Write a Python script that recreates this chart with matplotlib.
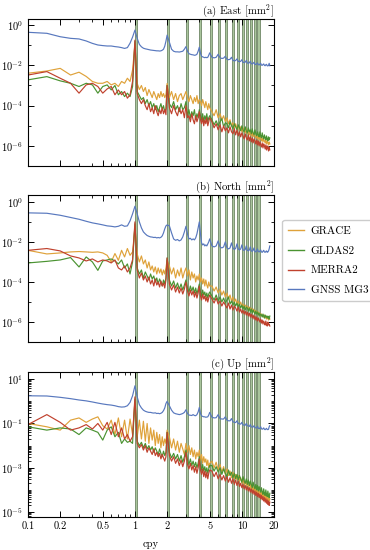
import numpy as np
import matplotlib
matplotlib.use("Agg")
import matplotlib.pyplot as plt
from matplotlib.ticker import FixedLocator, FuncFormatter, NullFormatter, LogLocator

plt.rcParams["font.family"] = "serif"
plt.rcParams["font.serif"] = ["cmr10", "DejaVu Serif"]
plt.rcParams["mathtext.fontset"] = "cm"
plt.rcParams["axes.formatter.use_mathtext"] = True
plt.rcParams["axes.unicode_minus"] = False

# frequency bins (cpy): 0.05 steps to 2, 0.1 steps to 5, 0.25 steps to 18.25
freq = np.concatenate([np.arange(2, 41) * 0.05, np.arange(21, 51) * 0.1, np.arange(21, 74) * 0.25])

# annual harmonics (shaded bands k .. 1.04k)
harmonics = list(range(1, 15))

labels = ["GRACE", "GLDAS2", "MERRA2", "GNSS MG3"]
colors = ["#dfa23a", "#4a9331", "#c0412d", "#5878be"]

# ---- power spectra, log10(mm^2) ----
# (a) East
east_grace = ([-2.39, -2.28, -2.15, -2.48, -2.34, -2.55, -2.8, -2.89, -2.89, -2.8, -2.97, -2.89, -3.05, -2.8, -2.89, -2.64, -2.8, -2.23, -0.99,
               -2.9, -3.2, -3.0, -3.3, -3.1, -3.5, -3.2, -3.4, -3.6, -3.3, -3.5, -3.7, -3.4, -3.6, -3.3, -3.55, -3.4, -3.6, -3.45, -2.9]
              + [-3.6, -3.3, -3.7, -3.4, -3.8, -3.5, -3.4, -3.7, -3.5, -3.3, -3.6, -3.8, -3.5, -3.7, -3.9, -3.6, -3.8, -3.5, -3.9, -3.7,
                 -3.8, -4.0, -3.7, -3.9, -4.1, -3.8, -4.0, -4.2, -3.9, -4.1]
              + [-4.3, -4.5, -4.2, -4.6, -4.4, -4.7, -4.5, -4.8, -4.6, -4.9, -4.7, -5.0, -4.85, -5.1, -4.9, -5.15, -5.0, -5.2, -5.05, -5.3,
                 -5.1, -5.25, -5.35, -5.15, -5.4, -5.2, -5.45, -5.3, -5.5, -5.35, -5.55, -5.4, -5.5, -5.6, -5.45, -5.65, -5.5, -5.7, -5.55, -5.65,
                 -5.75, -5.6, -5.8, -5.65, -5.75, -5.85, -5.7, -5.9, -5.75, -5.85, -5.95, -5.8, -5.9])
east_gldas = ([-2.72, -2.56, -2.77, -2.89, -3.05, -2.89, -2.97, -3.38, -3.05, -2.97, -3.22, -3.0, -3.46, -3.3, -3.55, -3.38, -3.55, -3.05, -0.8,
               -3.3, -3.5, -3.7, -3.6, -3.9, -3.7, -4.0, -3.8, -4.1, -3.9, -4.2, -4.0, -4.3, -4.1, -3.9, -4.2, -4.0, -4.3, -4.15, -3.0]
              + [-3.9, -4.1, -3.8, -4.2, -4.0, -4.3, -3.9, -4.2, -4.1, -3.8, -4.5, -4.2, -4.6, -4.3, -4.5, -4.2, -4.7, -4.4, -4.6, -4.2,
                 -4.5, -4.7, -4.4, -4.8, -4.5, -4.7, -4.4, -4.8, -4.6, -4.5]
              + [-4.7, -4.95, -4.75, -5.0, -4.8, -4.65, -5.05, -4.85, -4.9, -5.1, -4.8, -5.0, -5.15, -4.9, -5.05, -5.2, -4.95, -5.1, -5.25, -5.0,
                 -5.2, -5.3, -5.05, -5.25, -5.35, -5.1, -5.3, -5.2, -5.4, -5.15, -5.35, -5.45, -5.2, -5.4, -5.5, -5.3, -5.45, -5.55, -5.3, -5.5,
                 -5.6, -5.35, -5.55, -5.65, -5.45, -5.6, -5.7, -5.5, -5.65, -5.75, -5.55, -5.7, -5.6])
east_merra = ([-2.48, -2.31, -2.64, -2.89, -3.38, -2.97, -2.89, -3.05, -3.38, -3.17, -3.05, -3.46, -3.22, -3.46, -3.3, -3.63, -3.46, -2.8, -0.75,
               -3.4, -3.7, -3.9, -3.7, -4.0, -4.2, -3.9, -4.3, -4.1, -4.4, -4.0, -4.3, -4.5, -4.2, -4.4, -4.1, -4.4, -4.2, -4.45, -3.0]
              + [-4.1, -4.4, -4.0, -4.3, -4.5, -4.1, -4.4, -4.2, -4.6, -4.0, -4.6, -4.5, -4.8, -4.4, -4.7, -4.9, -4.5, -4.8, -4.6, -4.3,
                 -4.7, -4.9, -4.6, -5.0, -4.7, -4.9, -4.6, -5.0, -4.8, -4.6]
              + [-4.8, -5.1, -4.9, -5.2, -4.95, -5.3, -5.0, -5.25, -5.1, -5.35, -5.05, -5.3, -5.4, -5.15, -5.45, -5.2, -5.5, -5.3, -5.55, -5.35,
                 -5.5, -5.65, -5.4, -5.6, -5.7, -5.45, -5.75, -5.55, -5.8, -5.6, -5.85, -5.65, -5.75, -5.9, -5.7, -5.95, -5.75, -6.0, -5.8, -5.95,
                 -6.05, -5.85, -6.1, -5.9, -6.0, -6.15, -5.95, -6.2, -6.0, -6.1, -6.25, -6.05, -6.2])
east_gnss = ([-0.36, -0.41, -0.58, -0.66, -0.69, -0.79, -0.91, -0.99, -1.02, -1.04, -1.04, -1.07, -1.09, -1.12, -1.16, -1.12, -0.9, -0.6, -0.25,
              -0.66, -0.96, -1.08, -1.15, -1.18, -1.2, -1.22, -1.24, -1.25, -1.26, -1.27, -1.28, -1.28, -1.29, -1.28, -1.25, -1.2, -1.05, -0.8, -0.5]
             + [-0.85, -1.2, -1.3, -1.33, -1.33, -1.34, -1.32, -1.3, -1.2, -1.07, -1.3, -1.42, -1.45, -1.47, -1.48, -1.5, -1.49, -1.45, -1.3, -1.1,
                -1.4, -1.55, -1.58, -1.6, -1.62, -1.6, -1.62, -1.6, -1.5, -1.38]
             + [-1.6, -1.63, -1.6, -1.45, -1.62, -1.66, -1.64, -1.55, -1.7, -1.72, -1.7, -1.6, -1.75, -1.78, -1.76, -1.68, -1.8, -1.82, -1.8, -1.72,
                -1.85, -1.86, -1.84, -1.76, -1.88, -1.9, -1.87, -1.8, -1.92, -1.93, -1.9, -1.85, -1.95, -1.96, -1.92, -1.88, -1.97, -1.98, -1.94, -1.9,
                -1.99, -2.0, -1.96, -1.93, -2.0, -2.02, -1.97, -1.95, -2.02, -2.03, -2.0, -1.9, -2.02])

# (b) North
north_grace = ([-2.42, -2.6, -2.55, -2.5, -2.48, -2.5, -2.52, -2.5, -2.55, -2.67, -3.0, -2.58, -2.92, -2.42, -2.75, -2.33, -2.67, -2.5, -1.3,
                -2.6, -3.0, -2.7, -3.1, -2.9, -3.3, -3.0, -3.4, -3.2, -3.5, -3.25, -3.6, -3.3, -3.55, -3.35, -3.65, -3.4, -3.6, -3.3, -2.9]
               + [-3.2, -3.6, -3.3, -3.8, -3.4, -3.7, -3.3, -3.8, -3.5, -3.3, -3.7, -3.4, -3.9, -3.5, -3.8, -3.6, -4.0, -3.7, -3.9, -3.6,
                  -4.0, -3.8, -4.1, -3.85, -4.2, -3.9, -4.15, -4.3, -4.0, -4.2]
               + [-4.2, -4.45, -4.25, -4.55, -4.35, -4.65, -4.45, -4.75, -4.55, -4.85, -4.65, -4.95, -4.75, -5.0, -4.85, -5.1, -4.95, -5.15, -5.0, -5.2,
                  -5.1, -5.25, -5.15, -5.3, -5.2, -5.35, -5.25, -5.4, -5.3, -5.45, -5.35, -5.5, -5.4, -5.55, -5.45, -5.6, -5.5, -5.65, -5.55, -5.7,
                  -5.6, -5.7, -5.65, -5.75, -5.65, -5.8, -5.7, -5.85, -5.75, -5.8, -5.9, -5.75, -5.85])
north_gldas = ([-3.05, -2.97, -2.9, -2.78, -3.25, -2.75, -3.0, -3.42, -2.95, -2.9, -2.85, -2.95, -3.1, -2.9, -3.3, -3.1, -3.6, -3.0, -1.1,
                -3.3, -3.6, -3.4, -3.8, -3.5, -3.7, -3.9, -3.6, -3.85, -3.7, -4.0, -3.8, -4.1, -3.85, -4.0, -4.2, -3.9, -4.1, -3.8, -2.8]
               + [-3.9, -4.2, -3.95, -4.3, -4.05, -4.35, -4.1, -4.4, -4.15, -3.9, -4.3, -4.5, -4.2, -4.45, -4.25, -4.55, -4.3, -4.6, -4.35, -4.1,
                  -4.5, -4.7, -4.4, -4.65, -4.5, -4.75, -4.55, -4.8, -4.6, -4.5]
               + [-4.7, -4.9, -4.65, -4.95, -4.75, -5.0, -4.8, -5.05, -4.9, -4.75, -5.1, -4.95, -5.15, -5.0, -5.2, -5.05, -5.25, -5.1, -5.3, -5.15,
                  -5.35, -5.2, -5.4, -5.25, -5.3, -5.45, -5.3, -5.5, -5.35, -5.55, -5.4, -5.5, -5.6, -5.45, -5.6, -5.5, -5.65, -5.55, -5.7, -5.6,
                  -5.65, -5.75, -5.6, -5.7, -5.8, -5.65, -5.75, -5.7, -5.8, -5.7, -5.75, -5.85, -5.7])
north_merra = ([-2.42, -2.33, -2.45, -2.7, -2.8, -2.95, -2.85, -3.0, -2.9, -2.95, -3.05, -2.9, -3.3, -3.4, -3.2, -3.5, -3.3, -2.9, -1.0,
                -3.4, -3.8, -3.55, -3.9, -3.7, -4.0, -3.75, -4.1, -3.9, -4.2, -3.85, -4.15, -4.0, -4.25, -3.95, -4.2, -4.05, -4.3, -3.9, -2.8]
               + [-4.1, -4.4, -4.15, -4.5, -4.25, -4.55, -4.3, -4.6, -4.35, -4.0, -4.45, -4.7, -4.4, -4.65, -4.45, -4.75, -4.5, -4.8, -4.55, -4.2,
                  -4.7, -4.9, -4.6, -4.85, -4.7, -4.95, -4.75, -5.0, -4.8, -4.65]
               + [-4.85, -5.05, -4.8, -5.1, -4.95, -5.2, -5.0, -5.15, -5.3, -5.05, -5.35, -5.15, -5.4, -5.2, -5.3, -5.45, -5.25, -5.5, -5.35, -5.55,
                  -5.4, -5.6, -5.45, -5.65, -5.5, -5.7, -5.55, -5.75, -5.6, -5.8, -5.65, -5.85, -5.7, -5.9, -5.75, -5.95, -5.8, -5.9, -6.0, -5.85,
                  -6.05, -5.9, -6.1, -5.95, -6.05, -6.15, -5.95, -6.1, -6.2, -6.0, -6.15, -6.1, -6.2])
north_gnss = ([-0.55, -0.57, -0.67, -0.78, -0.87, -0.97, -1.05, -1.1, -1.15, -1.2, -1.22, -1.25, -1.22, -1.15, -1.22, -1.2, -0.95, -0.6, -0.22,
               -0.6, -1.0, -1.3, -1.5, -1.6, -1.68, -1.72, -1.75, -1.76, -1.78, -1.77, -1.8, -1.78, -1.8, -1.77, -1.7, -1.55, -1.35, -1.2, -1.15]
              + [-1.2, -1.55, -1.85, -1.92, -1.88, -1.95, -1.9, -1.75, -1.5, -1.22, -1.6, -1.85, -1.82, -1.9, -1.85, -1.9, -1.8, -1.6, -1.3, -1.0,
                 -1.6, -2.05, -2.15, -2.1, -2.2, -2.15, -2.2, -2.1, -2.0, -1.85]
              + [-2.2, -2.25, -2.2, -1.95, -2.25, -2.3, -2.25, -2.0, -2.3, -2.35, -2.3, -2.05, -2.3, -2.38, -2.32, -2.1, -2.35, -2.4, -2.35, -2.15,
                 -2.4, -2.42, -2.38, -2.2, -2.42, -2.45, -2.4, -2.25, -2.45, -2.47, -2.42, -2.3, -2.47, -2.5, -2.45, -2.35, -2.48, -2.5, -2.46, -2.4,
                 -2.5, -2.52, -2.47, -2.42, -2.5, -2.52, -2.48, -2.45, -2.52, -2.5, -2.45, -2.35, -2.2])

# (c) Up
up_grace = ([-1.0, -1.15, -1.3, -0.85, -0.75, -0.95, -0.8, -0.7, -1.1, -1.25, -0.85, -1.5, -0.75, -1.6, -0.85, -1.7, -0.8, -1.5, 0.0,
             -1.6, -0.85, -1.7, -0.9, -1.8, -1.0, -1.9, -1.2, -1.75, -1.3, -2.0, -1.4, -1.9, -1.5, -2.1, -1.6, -2.0, -1.7, -1.9, -1.3]
            + [-1.6, -2.1, -1.7, -2.2, -1.8, -2.3, -1.9, -2.15, -2.4, -1.9, -2.3, -2.0, -2.4, -2.1, -2.5, -2.2, -2.6, -2.3, -2.5, -2.2,
               -2.7, -2.4, -2.8, -2.5, -2.75, -2.6, -2.9, -2.65, -3.0, -2.8]
            + [-2.7, -3.0, -2.75, -3.1, -2.85, -3.2, -2.95, -3.3, -3.05, -3.35, -3.15, -3.45, -3.2, -3.5, -3.3, -3.55, -3.35, -3.6, -3.45, -3.7,
               -3.5, -3.75, -3.6, -3.8, -3.65, -3.85, -3.7, -3.95, -3.75, -4.0, -3.85, -4.05, -3.9, -4.1, -3.95, -4.15, -4.0, -4.2, -4.05, -4.25,
               -4.1, -4.3, -4.15, -4.35, -4.2, -4.4, -4.25, -4.45, -4.3, -4.5, -4.35, -4.5, -4.4])
up_gldas = ([-1.15, -1.3, -1.2, -1.25, -1.5, -1.2, -1.3, -1.4, -1.75, -1.3, -1.15, -1.6, -1.4, -1.9, -1.7, -1.85, -1.8, -1.9, 0.1,
             -1.8, -2.0, -1.85, -2.1, -1.9, -2.15, -2.0, -2.2, -2.05, -2.3, -2.1, -2.25, -2.4, -2.15, -2.35, -2.5, -2.25, -2.45, -2.3, -1.4]
            + [-2.3, -2.55, -2.35, -2.6, -2.4, -2.7, -2.45, -2.75, -2.5, -2.2, -2.65, -2.85, -2.6, -2.9, -2.7, -2.95, -2.75, -3.0, -2.8, -2.5,
               -2.9, -3.1, -2.85, -3.15, -2.95, -3.2, -3.0, -3.25, -3.05, -2.9]
            + [-2.9, -3.15, -2.95, -3.2, -3.0, -3.3, -3.05, -3.25, -3.4, -3.1, -3.35, -3.2, -3.45, -3.25, -3.5, -3.3, -3.55, -3.35, -3.5, -3.65,
               -3.4, -3.6, -3.7, -3.5, -3.75, -3.55, -3.8, -3.6, -3.75, -3.9, -3.65, -3.85, -3.95, -3.75, -4.0, -3.8, -4.05, -3.85, -4.0, -4.1,
               -3.9, -4.1, -4.2, -3.95, -4.15, -4.25, -4.0, -4.2, -4.3, -4.05, -4.25, -4.35, -4.15])
up_merra = ([-1.05, -0.6, -0.95, -1.3, -1.2, -1.05, -1.25, -1.0, -1.3, -0.95, -1.5, -0.95, -1.6, -1.2, -1.7, -1.5, -1.8, -1.6, 0.2,
             -1.9, -2.1, -1.95, -2.2, -2.0, -2.3, -2.1, -2.25, -2.4, -2.15, -2.45, -2.3, -2.5, -2.35, -2.6, -2.4, -2.55, -2.7, -2.5, -1.4]
            + [-2.45, -2.7, -2.5, -2.8, -2.6, -2.9, -2.65, -2.95, -2.7, -2.3, -2.85, -3.05, -2.8, -3.1, -2.9, -3.2, -2.95, -3.25, -3.0, -2.6,
               -3.1, -3.3, -3.05, -3.4, -3.15, -3.45, -3.2, -3.5, -3.25, -3.1]
            + [-3.15, -3.4, -3.2, -3.5, -3.3, -3.55, -3.35, -3.6, -3.4, -3.65, -3.45, -3.7, -3.5, -3.75, -3.55, -3.8, -3.6, -3.85, -3.7, -3.9,
               -3.75, -3.95, -3.8, -4.0, -3.85, -4.05, -3.9, -4.1, -3.95, -4.15, -4.0, -4.2, -4.05, -4.25, -4.1, -4.3, -4.15, -4.35, -4.2, -4.4,
               -4.25, -4.45, -4.3, -4.5, -4.35, -4.55, -4.4, -4.6, -4.45, -4.65, -4.5, -4.7, -4.55])
up_gnss = ([0.25, 0.24, 0.18, 0.12, 0.06, 0.02, -0.03, -0.08, -0.12, -0.15, -0.17, -0.2, -0.24, -0.26, -0.25, -0.2, -0.05, 0.25, 0.7,
            0.2, -0.15, -0.3, -0.4, -0.45, -0.48, -0.5, -0.5, -0.52, -0.53, -0.52, -0.55, -0.54, -0.56, -0.54, -0.5, -0.42, -0.3, -0.1, 0.0]
           + [-0.2, -0.4, -0.52, -0.56, -0.58, -0.6, -0.58, -0.55, -0.5, -0.38, -0.55, -0.62, -0.63, -0.64, -0.6, -0.64, -0.65, -0.6, -0.48, -0.28,
              -0.55, -0.66, -0.68, -0.7, -0.7, -0.72, -0.71, -0.7, -0.62, -0.5]
           + [-0.72, -0.75, -0.74, -0.6, -0.78, -0.8, -0.8, -0.7, -0.85, -0.88, -0.88, -0.78, -0.92, -0.95, -0.96, -0.88, -1.0, -1.02, -1.03, -0.95,
              -1.06, -1.08, -1.08, -1.0, -1.1, -1.12, -1.13, -1.05, -1.15, -1.17, -1.16, -1.1, -1.18, -1.2, -1.2, -1.12, -1.22, -1.23, -1.22, -1.15,
              -1.24, -1.26, -1.24, -1.2, -1.26, -1.28, -1.25, -1.22, -1.27, -1.28, -1.26, -1.15, -1.1])

panels = [
    ("(a) East [mm$^2$]", [east_grace, east_gldas, east_merra, east_gnss], (1e-7, 2.0), [0, -2, -4, -6]),
    ("(b) North [mm$^2$]", [north_grace, north_gldas, north_merra, north_gnss], (1e-7, 2.2), [0, -2, -4, -6]),
    ("(c) Up [mm$^2$]", [up_grace, up_gldas, up_merra, up_gnss], (6e-6, 21.0), [1, -1, -3, -5]),
]

fig = plt.figure(figsize=(3.7, 5.5), dpi=100)
boxes = [[0.0757, 0.698, 0.665, 0.2675],
         [0.0757, 0.378, 0.665, 0.2675],
         [0.0757, 0.060, 0.665, 0.2636]]

xticks = [0.1, 0.2, 0.5, 1, 2, 5, 10, 20]
xticklabels = ["0.1", "0.2", "0.5", "1", "2", "5", "10", "20"]

legend_lines = []
for i, (title, series, ylim, ylab) in enumerate(panels):
    ax = fig.add_axes(boxes[i])
    for k in harmonics:
        ax.axvspan(k, k * 1.045, facecolor="#a9c59c", edgecolor="#5b7551", lw=0.5, zorder=0)
    lines = []
    for vals, c, lab in zip(series, colors, labels):
        ln, = ax.plot(freq, 10.0 ** np.array(vals), color=c, lw=0.85, label=lab, zorder=2)
        lines.append(ln)
    if i == 1:
        legend_lines = lines
    ax.set_xscale("log")
    ax.set_yscale("log")
    ax.set_xlim(0.1, 20)
    ax.set_ylim(*ylim)
    ax.xaxis.set_major_locator(FixedLocator(xticks))
    ax.xaxis.set_minor_locator(LogLocator(base=10, subs=np.arange(2, 10)))
    ax.xaxis.set_minor_formatter(NullFormatter())
    if i == 2:
        ax.set_xticklabels(xticklabels)
        ax.set_xlabel("cpy", fontsize=7.5, labelpad=6)
    else:
        ax.xaxis.set_major_formatter(NullFormatter())
    ax.yaxis.set_major_locator(FixedLocator([10.0 ** e for e in ylab]))
    ax.yaxis.set_major_formatter(FuncFormatter(lambda v, p: r"$10^{%d}$" % round(np.log10(v))))
    if i == 2:
        ax.yaxis.set_minor_locator(LogLocator(base=10, subs=np.arange(1, 10), numticks=20))
    else:
        ax.yaxis.set_minor_locator(FixedLocator([10.0 ** e for e in range(-7, 1)]))
    ax.yaxis.set_minor_formatter(NullFormatter())
    ax.tick_params(which="both", direction="in", top=True, right=True, labelsize=7.5)
    ax.tick_params(which="major", length=4, width=0.7)
    ax.tick_params(which="minor", length=2.5, width=0.6)
    for s in ax.spines.values():
        s.set_linewidth(0.8)
    ax.set_title(title, loc="right", fontsize=7.8, pad=3)

leg = fig.legend(legend_lines, labels, loc="center left", bbox_to_anchor=(0.757, 0.526), fontsize=8,
                 labelspacing=0.9, handlelength=1.4, borderpad=0.55, handletextpad=0.6, borderaxespad=0.2,
                 fancybox=True, edgecolor="#cccccc", framealpha=1)
for h in leg.get_lines():
    h.set_linewidth(1.0)

fig.savefig("out.png", dpi=100)
